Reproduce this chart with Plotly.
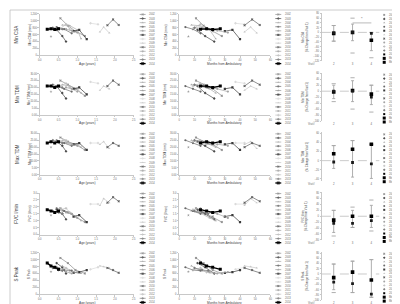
import plotly.graph_objects as go

W, H = 400, 304

# ---------------- data ----------------
patients = ["2002", "2003", "2004", "2005", "2006", "2007", "2008",
            "2009", "2010", "2011", "2012", "2013", "2014"]

ages = [[0.55, 0.75, 0.95, 1.2], [0.45, 0.6, 0.7], [0.6, 0.8, 1.0, 1.1],
        [0.45, 0.65, 0.85], [0.3], [0.9, 1.05, 1.25], [1.35, 1.55],
        [1.6, 1.7, 1.85], [1.8, 1.95, 2.1], [0.7, 0.85, 1.0],
        [0.55, 0.7, 0.8], [0.35, 0.5, 0.6], [0.2, 0.3, 0.4, 0.5]]

months = [[11, 16, 22, 28], [12, 17, 23], [8, 13, 20, 24], [4, 9, 14], [6],
          [30, 35, 40], [37, 43], [43, 47, 51], [43, 48, 53], [20, 25, 32],
          [9, 14, 18], [10, 15, 19], [14, 18, 22, 27]]

min_csa = [[1075, 860, 700, 560], [740, 560, 400], [880, 860, 740, 480],
           [820, 760, 640], [550], [700, 740, 470], [930, 900],
           [680, 820, 650], [870, 1040, 880], [760, 720, 660],
           [780, 900, 760], [800, 780, 760], [760, 770, 750, 770]]
min_tdm = [[25, 22, 19, 14], [21, 16, 12], [22, 21, 19, 16], [21, 19, 17],
           [17], [19, 20, 15], [24, 23], [18, 21, 19], [21, 25, 22],
           [20, 19, 17], [21, 23, 20], [22, 21, 20], [21, 21, 20, 21]]
max_tdm = [[27, 24, 22, 18], [24, 21, 17], [25, 23, 22, 20], [25, 23, 21],
           [20], [22, 23, 18], [23, 23], [22, 24, 19], [20, 23, 21],
           [23, 22, 21], [24, 25, 22], [25, 24, 23], [23, 24, 23, 24]]
fvc = [[1.9, 1.6, 1.3, 0.9], [1.8, 1.5, 1.1], [1.7, 1.6, 1.2, 1.0],
       [1.9, 1.7, 1.5], [1.4], [1.3, 1.4, 0.9], [2.2, 2.2], [2.1, 2.6, 2.3],
       [2.3, 2.7, 2.4], [1.6, 1.5, 1.2], [1.8, 1.9, 1.6], [1.7, 1.6, 1.5],
       [1.8, 1.7, 1.6, 1.7]]
s_peak = [[1050, 900, 700, 600], [900, 780, 600], [820, 700, 620, 600],
          [780, 700, 680], [650], [620, 640, 700], [720, 780],
          [820, 800, 760], [760, 700, 620], [650, 600, 640],
          [700, 760, 640], [760, 700, 680], [900, 820, 780, 720]]

row_names = ["Min CSA", "Min TDM", "Max TDM", "FVC l/min", "S Peak"]
row_units = ["Min CSA (mm²)", "Min TDM (mm)", "Max TDM (mm)", "FVC (l/min)", "S Peak"]
row_ranges = [[0, 1200], [0, 30], [0, 30], [0, 3], [0, 1200]]
row_dticks = [200, 5, 5, 0.5, 200]
row_formats = [",d", ".2f", ".2f", ".1f", ",d"]

visits = [2, 3, 4]
visit_labels = ["2", "3", "4"]
# percent change from visit 1 (per row): mean, median, error bar ends, extreme points
pct_mean = [[-4, 0, -33], [-3, 2, -10], [15, 25, 36], [-13, 0, 0], [-14, 7, -23]]
pct_median = [[-2, 0, -4], [0, 0, -20], [-3, -4, -7], [-24, -24, -15], [-31, -37, -77]]
pct_bar_hi = [[29, 35, 0], [20, 35, 20], [33, 44, 36], [20, 20, 37], [38, 49, 55]]
pct_bar_lo = [[-37, -35, -77], [-25, -35, -45], [-17, -36, -39], [-55, -38, -38], [-60, -71, -89]]
pct_pt_hi = [[29, 60, 0], [25, 45, 20], [33, 44, 36], [20, 31, 55], [38, 49, 55]]
pct_pt_lo = [[-37, -87, -107], [-35, -60, -70], [-47, -48, -50], [-67, -38, -50], [-71, -71, -89]]
pct_ranges = [[-122, 82], [-100, 62], [-44, 62], [-82, 82], [-100, 85]]

col3_legend = ["2002", "2003", "2004", "2005", "2007", "2009", "2010",
               "2011", "2012", "2013", "2014", "Mean", "Median"]

# ---------------- styles ----------------
colors = ["#8c8c8c", "#4a4a4a", "#ababab", "#6a6a6a", "#9a9a9a", "#3a3a3a",
          "#dadada", "#c8c8c8", "#5e5e5e", "#a4a4a4", "#bebebe", "#7c7c7c", "#000000"]
symbols = ["x", "diamond", "triangle-up", "circle", "star", "square", "diamond",
           "triangle-up", "x", "circle", "cross", "diamond", "square"]
widths = [0.7] * 12 + [1.3]
msizes = [2.2] * 12 + [3]
FONT = "Liberation Sans"
TXT = "#6a6a6a"
AX = "#c8c8c8"

row_vals = [min_csa, min_tdm, max_tdm, fvc, s_peak]
ROW_TOP0, ROW_STEP, PLOT_H = 4, 60.5, 42
COLX = [(30, 125), (171, 263), (315, 373)]


def px(x):
    return x / W


def py(y):
    return 1 - y / H


fig = go.Figure()
layout = dict(width=W, height=H, margin=dict(l=0, r=0, t=0, b=0),
              paper_bgcolor="white", plot_bgcolor="rgba(0,0,0,0)", showlegend=False,
              font=dict(family=FONT, color=TXT, size=3))
annotations = []
shapes = []


def axis_common(**kw):
    d = dict(showgrid=False, zeroline=False, showline=True, linecolor=AX, linewidth=0.6,
             ticks="outside", ticklen=1.5, tickwidth=0.5, tickcolor=AX,
             tickfont=dict(size=2.6, color=TXT, family=FONT))
    d.update(kw)
    return d


for r in range(5):
    top = ROW_TOP0 + ROW_STEP * r
    bot = top + PLOT_H
    vals = row_vals[r]
    for c in range(3):
        idx = r * 3 + c + 1
        xa = "xaxis" if idx == 1 else f"xaxis{idx}"
        ya = "yaxis" if idx == 1 else f"yaxis{idx}"
        xr = "x" if idx == 1 else f"x{idx}"
        yr = "y" if idx == 1 else f"y{idx}"
        x0, x1 = COLX[c]
        if c < 2:
            xs_all = ages if c == 0 else months
            for p in range(len(patients)):
                fig.add_trace(go.Scatter(
                    x=xs_all[p], y=vals[p], xaxis=xr, yaxis=yr, mode="lines+markers",
                    line=dict(color=colors[p], width=widths[p]),
                    marker=dict(symbol=symbols[p], size=msizes[p], color=colors[p],
                                line=dict(width=0))))
            if c == 0:
                layout[xa] = axis_common(domain=[px(x0), px(x1)], anchor=yr,
                                         range=[0, 2.5], dtick=0.5, tickformat=".1f")
            else:
                layout[xa] = axis_common(domain=[px(x0), px(x1)], anchor=yr,
                                         range=[0, 60], dtick=10)
            layout[ya] = axis_common(domain=[py(bot), py(top)], anchor=xr,
                                     range=row_ranges[r], dtick=row_dticks[r],
                                     tickformat=row_formats[r])
            annotations.append(dict(
                text="Age (years)" if c == 0 else "Months from Ambulatory",
                xref="paper", yref="paper", x=px((x0 + x1) / 2), y=py(bot + 8.5),
                showarrow=False, font=dict(size=3.2, color="#404040"),
                xanchor="center", yanchor="middle"))
            annotations.append(dict(
                text=row_units[r], xref="paper", yref="paper",
                x=px(x0 - 10 if c == 0 else x0 - 14), y=py((top + bot) / 2),
                textangle=-90, showarrow=False, font=dict(size=3.2, color="#404040"),
                xanchor="center", yanchor="middle"))
            # legend block
            lx = 131 if c == 0 else 268
            for p in range(len(patients)):
                ly = top + 0.5 + p * 4.15
                fig.add_trace(go.Scatter(
                    x=[lx, lx + 3, lx + 6], y=[ly, ly, ly], xaxis="x16", yaxis="y16",
                    mode="lines+markers", line=dict(color=colors[p], width=widths[p]),
                    marker=dict(symbol=symbols[p], size=[0, msizes[p], 0],
                                color=colors[p], line=dict(width=0))))
                annotations.append(dict(
                    text=patients[p], xref="paper", yref="paper", x=px(lx + 7.5), y=py(ly),
                    showarrow=False, font=dict(size=2.6, color=TXT),
                    xanchor="left", yanchor="middle"))
        else:
            ctop, cbot = top - 1, top + 48
            mean = pct_mean[r]
            fig.add_trace(go.Scatter(
                x=visits, y=pct_pt_hi[r], xaxis=xr, yaxis=yr, mode="markers",
                marker=dict(symbol="line-ew", size=3, line=dict(color="#8c8c8c", width=0.7))))
            fig.add_trace(go.Scatter(
                x=visits, y=pct_pt_lo[r], xaxis=xr, yaxis=yr, mode="markers",
                marker=dict(symbol="line-ew", size=3, line=dict(color="#8c8c8c", width=0.7))))
            fig.add_trace(go.Scatter(
                x=visits, y=mean, xaxis=xr, yaxis=yr, mode="markers",
                marker=dict(symbol="square", size=3.6, color="black"),
                error_y=dict(type="data", symmetric=False,
                             array=[h - m for h, m in zip(pct_bar_hi[r], mean)],
                             arrayminus=[m - lo for m, lo in zip(mean, pct_bar_lo[r])],
                             color="#a6a6a6", thickness=0.9, width=1.5)))
            fig.add_trace(go.Scatter(
                x=visits, y=pct_median[r], xaxis=xr, yaxis=yr, mode="markers",
                marker=dict(symbol="square", size=2.8, color="#1a1a1a")))
            layout[xa] = dict(domain=[px(x0), px(x1)], anchor=yr, range=[1.37, 4.42],
                              tickvals=visits, ticktext=visit_labels, showgrid=False,
                              zeroline=False, showline=False, ticks="", ticklabelstandoff=0,
                              tickfont=dict(size=2.8, color=TXT, family=FONT))
            layout[ya] = axis_common(domain=[py(cbot), py(ctop)], anchor=xr,
                                     range=pct_ranges[r], dtick=20, tickformat="d")
            shapes.append(dict(type="line", xref=f"{xr} domain", yref=yr, x0=0, x1=1,
                               y0=0, y1=0, line=dict(color="#a6a6a6", width=0.6, dash="dash")))
            annotations.append(dict(
                text="Visit#", xref="paper", yref="paper", x=px(305), y=py(cbot + 3),
                showarrow=False, font=dict(size=2.8, color=TXT),
                xanchor="center", yanchor="middle"))
            annotations.append(dict(
                text=row_names[r] + "<br>(% Change from Visit 1)", xref="paper", yref="paper",
                x=px(298), y=py((ctop + cbot) / 2), textangle=-90, showarrow=False,
                font=dict(size=2.8, color="#404040"), xanchor="center", yanchor="middle"))
            # right legend
            for i, name in enumerate(col3_legend):
                ly = top + 1 + i * 4.0
                if name in patients:
                    p = patients.index(name)
                    fig.add_trace(go.Scatter(
                        x=[378], y=[ly], xaxis="x16", yaxis="y16", mode="markers",
                        marker=dict(symbol=symbols[p], size=2.0, color=colors[p],
                                    line=dict(width=0))))
                else:
                    fig.add_trace(go.Scatter(
                        x=[378], y=[ly], xaxis="x16", yaxis="y16", mode="markers",
                        marker=dict(symbol="square", size=3, color="black")))
                annotations.append(dict(
                    text=name, xref="paper", yref="paper", x=px(381), y=py(ly),
                    showarrow=False, font=dict(size=2.6, color=TXT),
                    xanchor="left", yanchor="middle"))
    # row label
    annotations.append(dict(
        text=row_names[r], xref="paper", yref="paper", x=px(7), y=py(top + PLOT_H / 2),
        textangle=-90, showarrow=False, font=dict(size=4.5, color="#404040"),
        xanchor="center", yanchor="middle"))

# significance bracket in first % change panel
shapes.append(dict(type="line", xref="x3", yref="y3", x0=3, x1=4, y0=40, y1=40,
                   line=dict(color="#8c8c8c", width=0.6)))
annotations.append(dict(text="*", xref="x3", yref="y3", x=3.5, y=40, showarrow=False,
                        yanchor="bottom", font=dict(size=4, color=TXT)))

layout["xaxis16"] = dict(domain=[0, 1], range=[0, W], visible=False, anchor="y16",
                         fixedrange=True)
layout["yaxis16"] = dict(domain=[0, 1], range=[H, 0], visible=False, anchor="x16",
                         fixedrange=True)
shapes.append(dict(type="rect", xref="paper", yref="paper", x0=0, x1=1, y0=0, y1=1,
                   line=dict(color="#bfbfbf", width=0.8)))
layout["annotations"] = annotations
layout["shapes"] = shapes
fig.update_layout(**layout)
fig.write_html("out.html")
